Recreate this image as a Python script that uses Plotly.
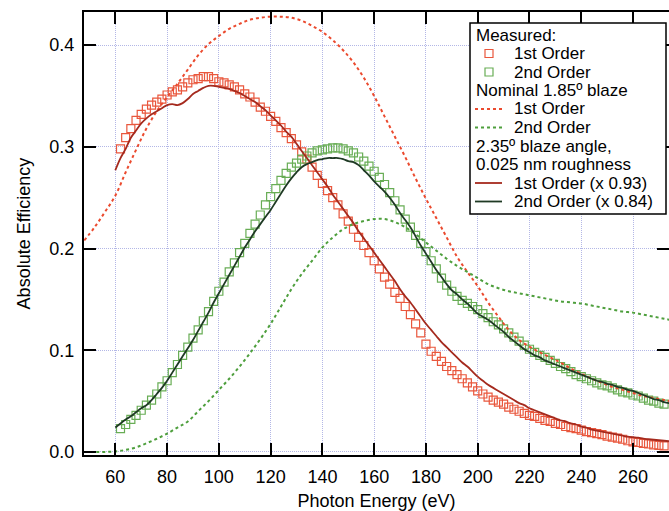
import plotly.graph_objects as go

# ---------------- data ----------------
meas_x = list(range(62, 273, 2))
meas_1st = [0.298, 0.309, 0.318, 0.326, 0.332, 0.337, 0.341, 0.344, 0.347, 0.351,
            0.354, 0.356, 0.359, 0.363, 0.366, 0.367, 0.369, 0.369, 0.367, 0.364,
            0.363, 0.361, 0.359, 0.356, 0.352, 0.349, 0.344, 0.339, 0.335, 0.330,
            0.325, 0.319, 0.314, 0.308, 0.302, 0.295, 0.288, 0.280, 0.272, 0.264,
            0.257, 0.250, 0.243, 0.234, 0.227, 0.219, 0.211, 0.203, 0.196, 0.188,
            0.180, 0.172, 0.165, 0.157, 0.151, 0.143, 0.135, 0.126, 0.117, 0.106,
            0.099, 0.094, 0.089, 0.084, 0.080, 0.076, 0.072, 0.068, 0.064, 0.060,
            0.057, 0.054, 0.051, 0.049, 0.047, 0.044, 0.042, 0.040, 0.038, 0.036,
            0.035, 0.033, 0.031, 0.030, 0.028, 0.027, 0.025, 0.024, 0.023, 0.0215,
            0.020, 0.019, 0.018, 0.017, 0.0155, 0.0145, 0.0135, 0.0125, 0.011, 0.010,
            0.0093, 0.0085, 0.0078, 0.007, 0.0065, 0.006]
meas_2nd = [0.023, 0.027, 0.032, 0.036, 0.041, 0.046, 0.051, 0.057, 0.064, 0.070,
            0.078, 0.086, 0.095, 0.103, 0.112, 0.120, 0.129, 0.138, 0.148, 0.158,
            0.167, 0.177, 0.186, 0.196, 0.205, 0.215, 0.224, 0.233, 0.243, 0.251,
            0.259, 0.267, 0.274, 0.280, 0.284, 0.288, 0.291, 0.294, 0.296, 0.297,
            0.298, 0.299, 0.299, 0.298, 0.296, 0.294, 0.290, 0.286, 0.281, 0.276,
            0.270, 0.263, 0.255, 0.247, 0.238, 0.229, 0.221, 0.213, 0.205, 0.197,
            0.188, 0.180, 0.171, 0.164, 0.158, 0.153, 0.149, 0.146, 0.143, 0.140,
            0.136, 0.132, 0.128, 0.125, 0.121, 0.117, 0.113, 0.109, 0.105, 0.101,
            0.098, 0.095, 0.093, 0.090, 0.087, 0.084, 0.082, 0.079, 0.076, 0.074,
            0.072, 0.070, 0.068, 0.066, 0.065, 0.063, 0.061, 0.059, 0.058, 0.056,
            0.055, 0.053, 0.051, 0.050, 0.048, 0.047]

nom_x = list(range(48, 277, 4))
nom_1st = [0.208, 0.221, 0.236, 0.252, 0.275, 0.297, 0.318, 0.335, 0.349, 0.362,
           0.376, 0.390, 0.401, 0.409, 0.416, 0.421, 0.425, 0.427, 0.428, 0.428,
           0.427, 0.424, 0.419, 0.413, 0.405, 0.395, 0.383, 0.368, 0.350, 0.330,
           0.310, 0.290, 0.269, 0.249, 0.230, 0.211, 0.192, 0.177, 0.163, 0.147,
           0.133, 0.120, 0.110, 0.1035, 0.098, 0.093, 0.088, 0.082, 0.077, 0.072,
           0.068, 0.064, 0.061, 0.058, 0.055, 0.053, 0.051, 0.049]
nom_2nd = [0.0, 0.0, 0.0, 0.0005, 0.002, 0.0045, 0.0085, 0.013, 0.018, 0.024,
           0.030, 0.040, 0.050, 0.061, 0.072, 0.084, 0.097, 0.111, 0.126, 0.143,
           0.160, 0.175, 0.188, 0.201, 0.211, 0.219, 0.224, 0.227, 0.229, 0.229,
           0.226, 0.221, 0.214, 0.206, 0.198, 0.190, 0.183, 0.177, 0.171, 0.165,
           0.161, 0.158, 0.156, 0.154, 0.152, 0.150, 0.148, 0.147, 0.146, 0.144,
           0.142, 0.140, 0.138, 0.137, 0.135, 0.133, 0.131, 0.129]

fit_x = list(range(60, 275, 2))
fit_1st = [0.277, 0.289, 0.298, 0.309, 0.316, 0.323, 0.328, 0.332, 0.335, 0.338,
           0.341, 0.342, 0.341, 0.343, 0.347, 0.352, 0.355, 0.358, 0.360, 0.360,
           0.359, 0.358, 0.357, 0.355, 0.353, 0.350, 0.347, 0.344, 0.340, 0.336,
           0.331, 0.326, 0.321, 0.315, 0.310, 0.303, 0.296, 0.289, 0.282, 0.275,
           0.268, 0.261, 0.253, 0.246, 0.239, 0.232, 0.225, 0.217, 0.210, 0.203,
           0.196, 0.189, 0.182, 0.175, 0.168, 0.160, 0.153, 0.147, 0.140, 0.133,
           0.126, 0.120, 0.114, 0.108, 0.103, 0.098, 0.093, 0.088, 0.084, 0.079,
           0.074, 0.070, 0.066, 0.063, 0.060, 0.057, 0.054, 0.051, 0.048, 0.046,
           0.043, 0.041, 0.039, 0.037, 0.035, 0.033, 0.031, 0.030, 0.028, 0.027,
           0.025, 0.024, 0.022, 0.021, 0.020, 0.019, 0.018, 0.017, 0.016, 0.015,
           0.0145, 0.014, 0.013, 0.0125, 0.012, 0.0115, 0.011, 0.0105]
fit_2nd = [0.024, 0.028, 0.032, 0.035, 0.039, 0.043, 0.046, 0.051, 0.057, 0.063,
           0.070, 0.078, 0.086, 0.094, 0.102, 0.110, 0.119, 0.128, 0.137, 0.147,
           0.156, 0.165, 0.174, 0.183, 0.192, 0.201, 0.209, 0.217, 0.224, 0.231,
           0.238, 0.246, 0.254, 0.262, 0.269, 0.275, 0.280, 0.283, 0.285, 0.287,
           0.288, 0.289, 0.289, 0.289, 0.288, 0.286, 0.285, 0.282, 0.277, 0.272,
           0.266, 0.261, 0.256, 0.250, 0.243, 0.235, 0.228, 0.221, 0.212, 0.203,
           0.195, 0.187, 0.179, 0.172, 0.165, 0.159, 0.155, 0.150, 0.146, 0.141,
           0.136, 0.133, 0.130, 0.126, 0.122, 0.118, 0.113, 0.109, 0.105, 0.101,
           0.098, 0.095, 0.093, 0.090, 0.088, 0.086, 0.084, 0.082, 0.080, 0.078,
           0.076, 0.074, 0.072, 0.070, 0.069, 0.067, 0.066, 0.064, 0.063, 0.061,
           0.060, 0.058, 0.056, 0.054, 0.052, 0.051, 0.049, 0.048]

x_ticks = [60, 80, 100, 120, 140, 160, 180, 200, 220, 240, 260]
y_ticks = [0.0, 0.1, 0.2, 0.3, 0.4]

legend_lines = ["Measured:", "1st Order", "2nd Order", "Nominal 1.85º blaze",
                "1st Order", "2nd Order", "2.35º blaze angle,",
                "0.025 nm roughness", "1st Order (x 0.93)", "2nd Order (x 0.84)"]

# ---------------- styles ----------------
C_M1 = "#E9573D"
C_M2 = "#68AD55"
C_N1 = "#EB4A2E"
C_N2 = "#4E9F3D"
C_F1 = "#A52A1E"
C_F2 = "#1F3A24"
FONT = "Liberation Sans, Arial, Helvetica, sans-serif"

W, H = 669, 511
L, R, T, B = 84, 0, 12, 56

fig = go.Figure()
fig.add_trace(go.Scatter(x=meas_x, y=meas_1st, mode="markers", name="1st Order",
                         marker=dict(symbol="square-open", size=8, color=C_M1,
                                     line=dict(width=1.2, color=C_M1))))
fig.add_trace(go.Scatter(x=meas_x, y=meas_2nd, mode="markers", name="2nd Order",
                         marker=dict(symbol="square-open", size=8, color=C_M2,
                                     line=dict(width=1.2, color=C_M2))))
fig.add_trace(go.Scatter(x=nom_x, y=nom_1st, mode="lines", line_shape="spline",
                         line=dict(color=C_N1, width=2, dash="3px,3px")))
fig.add_trace(go.Scatter(x=nom_x, y=nom_2nd, mode="lines", line_shape="spline",
                         line=dict(color=C_N2, width=2, dash="3px,3px")))
fig.add_trace(go.Scatter(x=fit_x, y=fit_1st, mode="lines", line_shape="spline",
                         line=dict(color=C_F1, width=1.8)))
fig.add_trace(go.Scatter(x=fit_x, y=fit_2nd, mode="lines", line_shape="spline",
                         line=dict(color=C_F2, width=1.8)))

pw, ph = W - L - R, H - T - B


def pxx(x):
    return (x - L) / pw


def pxy(y):
    return (H - B - y) / ph


shapes = []
annotations = []
# legend box
shapes.append(dict(type="rect", xref="paper", yref="paper",
                   x0=pxx(470), x1=pxx(666), y0=pxy(214), y1=pxy(23),
                   line=dict(color="black", width=1.5), fillcolor="white", layer="above"))
row_y = [35 + 18.5 * i for i in range(len(legend_lines))]
indent = {1, 2, 4, 5, 8, 9}
for i, txt in enumerate(legend_lines):
    annotations.append(dict(text=txt, xref="paper", yref="paper",
                            x=pxx(512 if i in indent else 474), y=pxy(row_y[i]),
                            xanchor="left", yanchor="middle", showarrow=False,
                            font=dict(family=FONT, size=17, color="black")))
# legend symbols
for i, col in ((1, C_M1), (2, C_M2)):
    shapes.append(dict(type="rect", xref="paper", yref="paper",
                       x0=pxx(485), x1=pxx(493), y0=pxy(row_y[i] + 4), y1=pxy(row_y[i] - 4),
                       line=dict(color=col, width=1.2), layer="above"))
for i, col, dash, wd in ((4, C_N1, "3px,3px", 2), (5, C_N2, "3px,3px", 2),
                         (8, C_F1, "solid", 1.8), (9, C_F2, "solid", 1.8)):
    shapes.append(dict(type="line", xref="paper", yref="paper",
                       x0=pxx(475), x1=pxx(502), y0=pxy(row_y[i]), y1=pxy(row_y[i]),
                       line=dict(color=col, width=wd, dash=dash), layer="above"))

axis_common = dict(showline=True, linecolor="black", linewidth=2, automargin=False,
                   ticks="inside", ticklen=12, tickwidth=2, tickcolor="black",
                   showgrid=True, gridcolor="#B3B7E6", gridwidth=1, griddash="1px,1px",
                   zeroline=False, mirror="ticks",
                   tickfont=dict(family=FONT, size=18, color="black"))

fig.update_layout(
    width=W, height=H, margin=dict(l=L, r=R, t=T, b=B, autoexpand=False),
    paper_bgcolor="white", plot_bgcolor="white", showlegend=False,
    font=dict(family=FONT, size=18, color="black"),
    xaxis=dict(range=[47.9, 273.9], tickvals=x_ticks, ticklabelstandoff=4,
               title=dict(text="Photon Energy (eV)", standoff=16,
                          font=dict(family=FONT, size=18)), **axis_common),
    yaxis=dict(range=[-0.003, 0.4326], tickvals=y_ticks, tickformat=".1f",
               ticklabelstandoff=4,
               title=dict(text="Absolute Efficiency", standoff=14,
                          font=dict(family=FONT, size=18)), **axis_common),
    shapes=shapes, annotations=annotations,
)

fig.write_html("out.html")
